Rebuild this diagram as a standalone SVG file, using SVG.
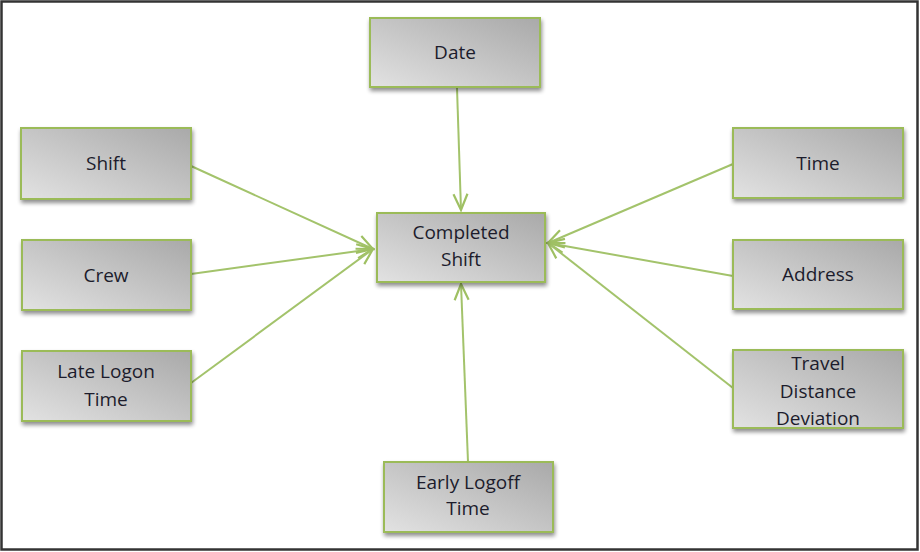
<svg xmlns="http://www.w3.org/2000/svg" width="920" height="552" viewBox="0 0 920 552">
<defs>
<linearGradient id="g" x1="0" y1="1" x2="1" y2="0">
<stop offset="0" stop-color="#e2e2e2"/>
<stop offset="1" stop-color="#a9a9a9"/>
</linearGradient>
<filter id="sh" x="-10%" y="-10%" width="130%" height="140%">
<feGaussianBlur in="SourceAlpha" stdDeviation="2"/>
<feOffset dx="1" dy="3" result="b"/>
<feComponentTransfer><feFuncA type="linear" slope="0.45"/></feComponentTransfer>
<feMerge><feMergeNode/><feMergeNode in="SourceGraphic"/></feMerge>
</filter>
<marker id="ah" viewBox="0 0 20 20" refX="18" refY="10" markerWidth="20" markerHeight="20" markerUnits="userSpaceOnUse" orient="auto">
<path d="M2,3 L18,10 L2,17" fill="none" stroke="#9fc063" stroke-width="2.2"/>
</marker>
</defs>
<style>
.n rect{fill:url(#g);stroke:#9bbb59;stroke-width:2;filter:url(#sh)}
.n text{font-family:"Open Sans","Liberation Sans",sans-serif;font-size:19px;fill:#1c1c2c;text-anchor:middle}
.c line{stroke:#a3c36b;stroke-width:2;marker-end:url(#ah)}
</style>
<rect x="1.5" y="1.5" width="916" height="548" fill="#fff" stroke="#333" stroke-width="2.5"/>
<g class="c">
<line x1="457" y1="88" x2="461" y2="210"/>
<line x1="191" y1="166" x2="373" y2="249"/>
<line x1="191" y1="274" x2="373" y2="249"/>
<line x1="191" y1="383" x2="373" y2="249"/>
<line x1="733" y1="164" x2="548" y2="243"/>
<line x1="733" y1="276" x2="548" y2="243"/>
<line x1="733" y1="388" x2="548" y2="243"/>
<line x1="468" y1="462" x2="461" y2="284"/>
</g>
<g class="n" id="date"><rect x="370" y="18" width="170" height="69"/><text x="455" y="59">Date</text></g>
<g class="n" id="completed"><rect x="377" y="213" width="168" height="69"/><text x="461" y="239">Completed</text><text x="461" y="266">Shift</text></g>
<g class="n" id="shift"><rect x="21" y="128" width="170" height="71"/><text x="106" y="170">Shift</text></g>
<g class="n" id="crew"><rect x="22" y="240" width="169" height="70"/><text x="106" y="282">Crew</text></g>
<g class="n" id="late"><rect x="22" y="351" width="169" height="70"/><text x="106" y="378">Late Logon</text><text x="106" y="406">Time</text></g>
<g class="n" id="time"><rect x="733" y="128" width="170" height="70"/><text x="818" y="170">Time</text></g>
<g class="n" id="address"><rect x="733" y="240" width="170" height="69"/><text x="818" y="281">Address</text></g>
<g class="n" id="travel"><rect x="733" y="350" width="170" height="78"/><text x="818" y="370">Travel</text><text x="818" y="398">Distance</text><text x="818" y="425">Deviation</text></g>
<g class="n" id="early"><rect x="384" y="462" width="169" height="70"/><text x="468" y="489">Early Logoff</text><text x="468" y="515">Time</text></g>
</svg>
